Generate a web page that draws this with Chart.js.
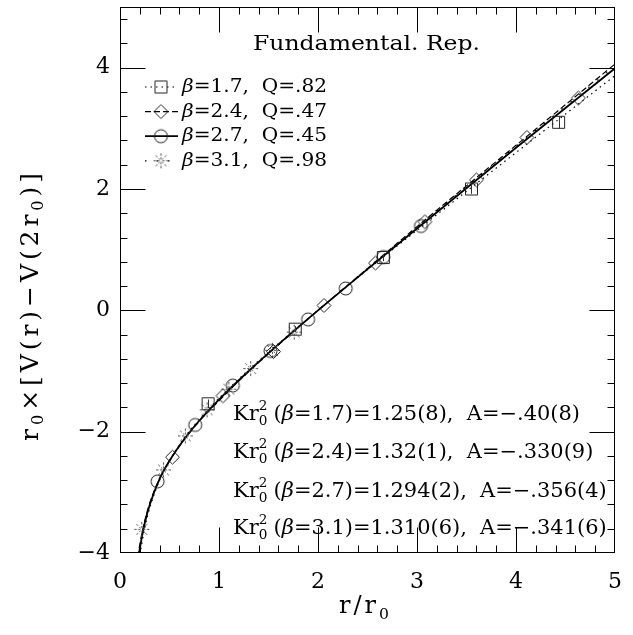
<!DOCTYPE html>
<html>
<head>
<meta charset="utf-8">
<script src="https://cdn.jsdelivr.net/npm/chart.js@4.4.1/dist/chart.umd.min.js"></script>
<style>html,body{margin:0;padding:0;background:#fff}</style>
</head>
<body>
<canvas id="chart" width="633" height="635"></canvas>
<script>
// measured points, r/r0 and r0*[V(r)-V(2r0)]
const r17 = [0.89, 1.77, 2.66, 3.55, 4.43];
const v17 = [-1.54, -0.31, 0.87, 2.00, 3.10];
const e17 = [0.07, 0.05, 0.06, 0.08, 0.10];
const r24 = [0.53, 1.04, 1.55, 2.06, 2.58, 3.08, 3.60, 4.11, 4.63];
const v24 = [-2.42, -1.41, -0.68, 0.08, 0.78, 1.46, 2.15, 2.85, 3.50];
const r27 = [0.38, 0.76, 1.14, 1.52, 1.90, 2.28, 2.66, 3.04];
const v27 = [-2.82, -1.89, -1.24, -0.67, -0.15, 0.36, 0.88, 1.39];
const r31 = [0.22, 0.44, 0.66, 0.88, 1.10, 1.32, 1.54, 1.76];
const v31 = [-3.61, -2.63, -2.07, -1.64, -1.30, -0.96, -0.66, -0.36];

// fit curves
const fitR  = [0.18, 0.2, 0.25, 0.3, 0.4, 0.5, 0.65, 0.8, 1.0, 1.3, 1.6, 2.0, 2.5, 3.0, 4.0, 5.0];
const fit17 = [-4.30, -4.05, -3.59, -3.26, -2.80, -2.48, -2.10, -1.80, -1.45, -0.98, -0.55, 0.00, 0.67, 1.32, 2.60, 3.87];
const fit24 = [-4.07, -3.86, -3.47, -3.18, -2.77, -2.48, -2.13, -1.83, -1.49, -1.01, -0.57, 0.00, 0.69, 1.38, 2.72, 4.06];
const fit27 = [-4.16, -3.93, -3.51, -3.21, -2.78, -2.48, -2.12, -1.82, -1.47, -1.00, -0.56, 0.00, 0.68, 1.35, 2.68, 3.99];
const fit31 = [-4.11, -3.89, -3.49, -3.19, -2.78, -2.48, -2.12, -1.83, -1.48, -1.01, -0.57, 0.00, 0.69, 1.37, 2.70, 4.03];

const yTicks = [-4, -2, 0, 2, 4];
const betas = ['1.7', '2.4', '2.7', '3.1'];
const qVals = ['.82', '.47', '.45', '.98'];
const krVals = ['1.25(8)', '1.32(1)', '1.294(2)', '1.310(6)'];
const aVals = ['−.40(8)', '−.330(9)', '−.356(4)', '−.341(6)'];

const FAM = '"DejaVu Serif", "Liberation Serif", serif';
const dashes = [[1.5, 4], [6, 3], [], [1.5, 10]];
const widths = [1.2, 1.2, 1.8, 1.2];

function marker(kind){
    const c = document.createElement('canvas');
    c.width = 19; c.height = 19;
    const g = c.getContext('2d');
    g.strokeStyle = kind === 3 ? '#555' : '#222';
    g.lineWidth = 1;
    g.beginPath();
    if(kind === 0){ g.rect(3.5, 3.5, 12, 12); }
    else if(kind === 1){ g.moveTo(9.5, 2.5); g.lineTo(16.5, 9.5); g.lineTo(9.5, 16.5); g.lineTo(2.5, 9.5); g.closePath(); }
    else if(kind === 2){ g.arc(9.5, 9.5, 6.5, 0, Math.PI * 2); }
    else {
        for(let k = 0; k < 8; k++){
            const a = k * Math.PI / 4, cs = Math.cos(a), sn = Math.sin(a);
            g.moveTo(9.5 + 1.5*cs, 9.5 + 1.5*sn); g.lineTo(9.5 + 3.5*cs, 9.5 + 3.5*sn);
            g.moveTo(9.5 + 5*cs, 9.5 + 5*sn); g.lineTo(9.5 + 7.5*cs, 9.5 + 7.5*sn);
        }
    }
    g.stroke();
    return c;
}
const markers = [0, 1, 2, 3].map(marker);

function pts(xs, ys){ return xs.map((x, i) => ({x: x, y: ys[i]})); }

function fmt(p, size){
    const s = p.small ? size * 0.65 : size;
    return (p.it ? 'italic ' : '') + s.toFixed(1) + 'px ' + FAM;
}
function partW(ctx, p, size){
    if(p.stack){
        ctx.font = fmt({small:true}, size);
        return Math.max(ctx.measureText(p.stack[0]).width, ctx.measureText(p.stack[1]).width) + size * 0.3;
    }
    ctx.font = fmt(p, size);
    return ctx.measureText(p.t).width;
}
function runsW(ctx, parts, size){ return parts.reduce((s, p) => s + partW(ctx, p, size), 0); }
function drawRuns(ctx, parts, x, y, size, k){
    ctx.save();
    ctx.translate(x, y); ctx.scale(k, 1);
    ctx.textBaseline = 'middle'; ctx.textAlign = 'left'; ctx.fillStyle = '#000';
    let cx = 0;
    for(const p of parts){
        const w = partW(ctx, p, size);
        if(p.stack){
            ctx.font = fmt({small:true}, size);
            ctx.fillText(p.stack[0], cx, -size * 0.42);
            ctx.fillText(p.stack[1], cx, size * 0.32);
        } else {
            ctx.font = fmt(p, size);
            ctx.fillText(p.t, cx, p.small ? size * 0.32 : 0);
        }
        cx += w;
    }
    ctx.restore();
}
// spread letters instead of stretching them, keeps the strokes thin
function drawSpaced(ctx, parts, x, y, size, target){
    const n = parts.reduce((s, p) => s + p.t.length, 0);
    const gap = Math.max(0, (target - runsW(ctx, parts, size)) / n);
    ctx.save();
    ctx.textBaseline = 'middle'; ctx.textAlign = 'left'; ctx.fillStyle = '#000';
    let cx = x;
    for(const p of parts){
        ctx.font = fmt(p, size);
        for(const ch of p.t){
            ctx.fillText(ch, cx, y + (p.small ? size * 0.32 : 0));
            cx += ctx.measureText(ch).width + gap;
        }
    }
    ctx.restore();
}

const decor = {
    id: 'decor',
    afterDatasetsDraw(chart){
        const {ctx, scales: {x, y}} = chart;
        ctx.save();
        ctx.strokeStyle = '#333'; ctx.lineWidth = 1;
        r17.forEach((r, i) => {
            const px = Math.round(x.getPixelForValue(r)) + 0.5;
            ctx.beginPath();
            ctx.moveTo(px, y.getPixelForValue(v17[i] - e17[i]));
            ctx.lineTo(px, y.getPixelForValue(v17[i] + e17[i]));
            ctx.stroke();
        });
        ctx.restore();
    },
    afterDraw(chart){
        const {ctx, chartArea: a, scales: {x, y}} = chart;
        ctx.save();
        ctx.strokeStyle = '#000'; ctx.lineWidth = 1;
        const L = Math.round(a.left) + 0.5, R = Math.round(a.right) - 0.5;
        const T = Math.round(a.top) + 0.5, B = Math.round(a.bottom) - 0.5;
        ctx.strokeRect(L, T, R - L, B - T);
        ctx.beginPath();
        for(let i = 1; i < 25; i++){
            const px = Math.round(x.getPixelForValue(i / 5)) + 0.5;
            const len = i % 5 === 0 ? 25 : 7;
            ctx.moveTo(px, B); ctx.lineTo(px, B - len);
            ctx.moveTo(px, T); ctx.lineTo(px, T + len);
        }
        for(let i = 1; i < 23; i++){
            const py = Math.round(y.getPixelForValue(-4 + 0.4 * i)) + 0.5;
            const len = i % 5 === 0 ? 25 : 7;
            ctx.moveTo(L, py); ctx.lineTo(L + len, py);
            ctx.moveTo(R, py); ctx.lineTo(R - len, py);
        }
        ctx.stroke();

        // title and legend
        const title = [{t:'Fundamental. Rep.'}];
        drawRuns(ctx, title, 253, 45, 21, 227 / runsW(ctx, title, 21));
        const legRows = betas.map((b, i) => [{t:'β', it:true}, {t:'=' + b + ',  Q=' + qVals[i]}]);
        const kLeg = 145 / runsW(ctx, legRows[0], 19);
        legRows.forEach((row, i) => {
            const ly = 87 + 24.6 * i;
            ctx.save();
            ctx.strokeStyle = '#000'; ctx.lineWidth = widths[i];
            ctx.setLineDash(dashes[i]);
            ctx.beginPath(); ctx.moveTo(145, ly); ctx.lineTo(178, ly); ctx.stroke();
            ctx.restore();
            ctx.drawImage(markers[i], 161 - 9.5, ly - 9.5);
            drawRuns(ctx, row, 182, ly, 19, kLeg);
        });

        // fit results
        const krRows = betas.map((b, i) => [
            {t:'Kr'}, {stack:['2', '0']}, {t:'('}, {t:'β', it:true},
            {t:'=' + b + ')=' + krVals[i] + ',  A=' + aVals[i]}
        ]);
        const kKr = 347 / runsW(ctx, krRows[0], 20);
        const krY = [415, 453, 492, 529];
        krRows.forEach((row, i) => drawRuns(ctx, row, 233, krY[i], 20, kKr));

        // axis titles
        const xt = [{t:'r/r'}, {t:'0', small:true}];
        drawSpaced(ctx, xt, 339, 607, 24, 53);
        const yt = [{t:'r'}, {t:'0', small:true}, {t:'×[V(r)−V(2r'}, {t:'0', small:true}, {t:')]'}];
        ctx.save();
        ctx.translate(31, 305); ctx.rotate(-Math.PI / 2);
        drawSpaced(ctx, yt, -136, 0, 25, 272);
        ctx.restore();
        ctx.restore();
    }
};

const pointSet = (xs, ys, i) => ({
    data: pts(xs, ys), showLine: false, pointStyle: markers[i], pointRadius: 6
});
const fitSet = (ys, i) => ({
    data: pts(fitR, ys), showLine: true, pointRadius: 0, borderColor: '#000',
    borderWidth: widths[i], borderDash: dashes[i], cubicInterpolationMode: 'monotone'
});

new Chart(document.getElementById('chart'), {
    type: 'scatter',
    data: {
        datasets: [
            pointSet(r17, v17, 0), pointSet(r24, v24, 1), pointSet(r27, v27, 2), pointSet(r31, v31, 3),
            fitSet(fit17, 0), fitSet(fit24, 1), fitSet(fit27, 2), fitSet(fit31, 3)
        ]
    },
    options: {
        responsive: false, animation: false, devicePixelRatio: 1,
        layout: { padding: { top: 1, right: 18, left: 0, bottom: 0 } },
        plugins: { legend: { display: false }, tooltip: { enabled: false } },
        scales: {
            x: {
                type: 'linear', min: 0, max: 5,
                grid: { display: false, drawTicks: false }, border: { display: false },
                ticks: { stepSize: 1, padding: 16, color: '#000', font: { family: FAM, size: 22 } },
                afterFit(s){ s.height = 82; s.paddingLeft = 0; s.paddingRight = 0; }
            },
            y: {
                type: 'linear', min: -4, max: 5,
                grid: { display: false, drawTicks: false }, border: { display: false },
                ticks: { padding: 10, color: '#000', font: { family: FAM, size: 22 },
                    callback: v => String(v).replace('-', '−') },
                afterBuildTicks(s){ s.ticks = yTicks.map(v => ({value: v})); },
                afterFit(s){ s.width = 120; s.paddingTop = 0; s.paddingBottom = 0; }
            }
        }
    },
    plugins: [decor]
});
</script>
</body>
</html>
